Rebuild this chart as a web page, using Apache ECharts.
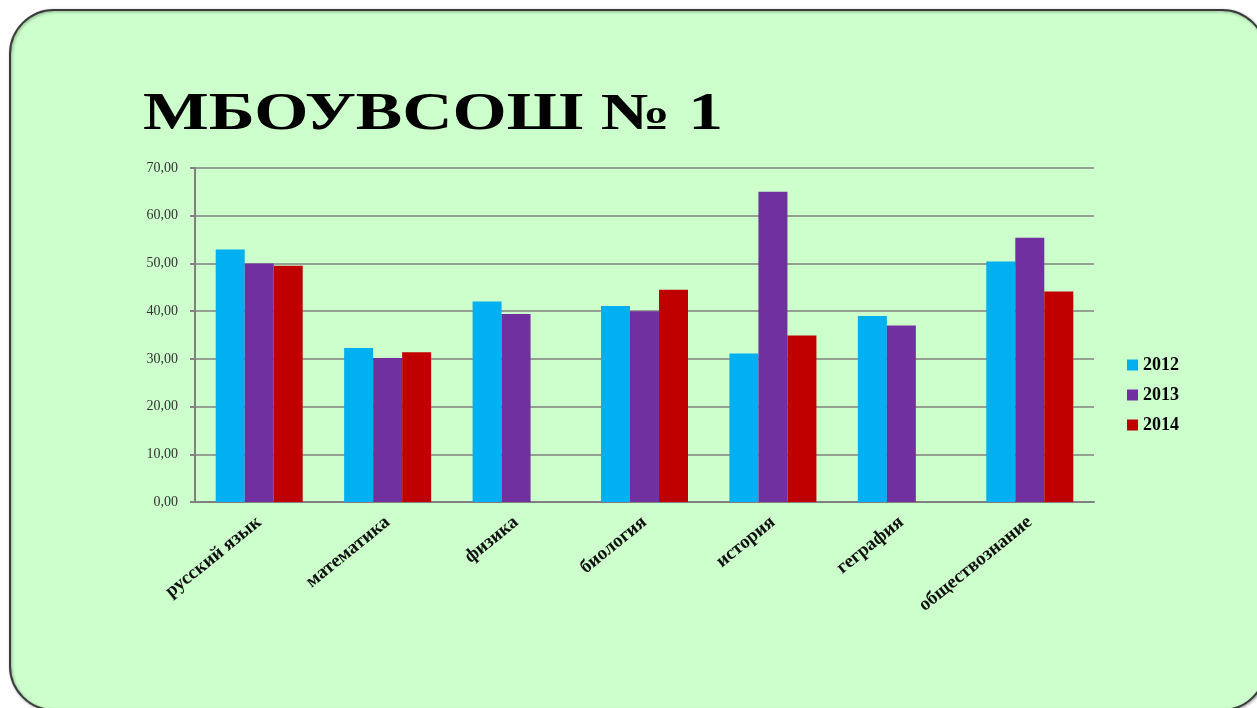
<!DOCTYPE html>
<html>
<head>
<meta charset="utf-8">
<script src="https://cdn.jsdelivr.net/npm/echarts@6/dist/echarts.min.js"></script>
<style>
html,body{margin:0;padding:0;background:#ffffff;}
#chart{width:1257px;height:708px;}
</style>
</head>
<body>
<div id="chart"></div>
<script>
var titleText = 'МБОУВСОШ № 1';
var categories = ['русский язык', 'математика', 'физика', 'биология', 'история', 'геграфия', 'обществознание'];
var seriesNames = ['2012', '2013', '2014'];
var values2012 = [52.9, 32.3, 42.0, 41.1, 31.1, 39.0, 50.4];
var values2013 = [50.0, 30.2, 39.4, 40.0, 65.0, 37.0, 55.4];
var values2014 = [49.5, 31.4, null, 44.5, 34.9, null, 44.1];
var yMin = 0, yMax = 70, yInterval = 10;

var colors = ['#00B0F0', '#7030A0', '#C00000'];
var serif = '"Liberation Serif", "DejaVu Serif", serif';

var chart = echarts.init(document.getElementById('chart'));
var allValues = [values2012, values2013, values2014];

chart.setOption({
  animation: false,
  backgroundColor: '#ffffff',
  graphic: [
    {
      type: 'rect', z: -10, silent: true,
      shape: {x: 10, y: 10, width: 1256, height: 700, r: 44},
      style: {fill: '#CCFFCC', stroke: '#3a3a3a', lineWidth: 2,
        shadowBlur: 3, shadowColor: 'rgba(0,0,0,0.35)', shadowOffsetX: 1, shadowOffsetY: 1}
    },
    {
      type: 'text', z: 5, x: 143, y: 90, scaleX: 1.34,
      style: {text: titleText, font: 'bold 52px ' + serif, fill: '#000000'}
    }
  ],
  grid: {left: 195, right: 163, top: 168, bottom: 206, containLabel: false},
  legend: {
    orient: 'vertical', left: 1122, top: 351,
    itemWidth: 11, itemHeight: 11, itemGap: 12,
    icon: 'rect',
    textStyle: {fontFamily: serif, fontWeight: 'bold', fontSize: 18, color: '#000'},
    data: seriesNames
  },
  xAxis: {
    type: 'category', data: categories,
    axisLine: {lineStyle: {color: '#808080', width: 2}},
    axisTick: {show: false},
    axisLabel: {
      interval: 0, rotate: 39, margin: 18,
      fontFamily: serif, fontWeight: 'bold', fontSize: 19, color: '#111'
    }
  },
  yAxis: {
    type: 'value', min: yMin, max: yMax, interval: yInterval,
    axisLine: {show: true, lineStyle: {color: '#808080', width: 2}},
    axisTick: {show: true, length: 5, lineStyle: {color: '#808080', width: 2}},
    splitLine: {lineStyle: {color: '#808080', width: 1.5}},
    axisLabel: {
      margin: 17,
      fontFamily: serif, fontSize: 14, color: '#333',
      formatter: function (v) { return v.toFixed(2).replace('.', ','); }
    }
  },
  series: seriesNames.map(function (name, i) {
    return {
      name: name, type: 'bar', data: allValues[i],
      barWidth: 29, barGap: '0%',
      itemStyle: {color: colors[i]}
    };
  })
});
</script>
</body>
</html>
